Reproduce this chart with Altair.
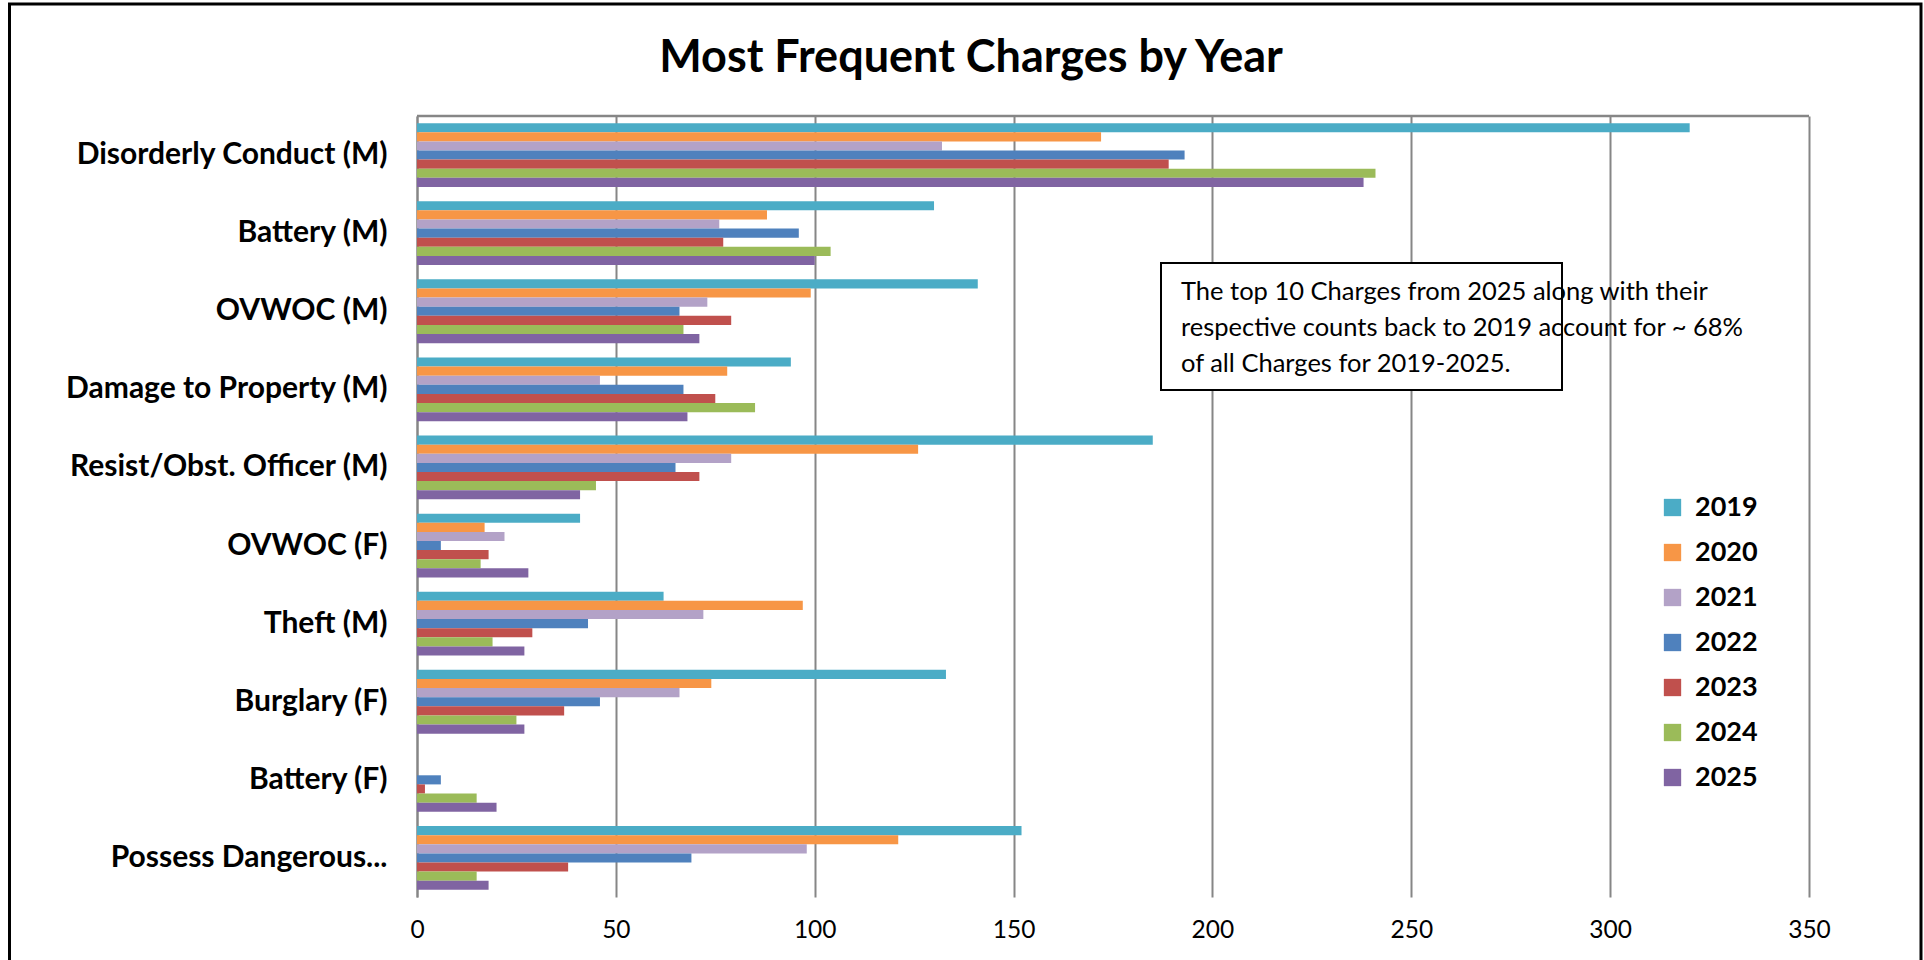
import altair as alt
import pandas as pd

# Charges, listed top to bottom as drawn
charges = [
    "Disorderly Conduct (M)",
    "Battery (M)",
    "OVWOC (M)",
    "Damage to Property (M)",
    "Resist/Obst. Officer (M)",
    "OVWOC (F)",
    "Theft (M)",
    "Burglary (F)",
    "Battery (F)",
    "Possess Dangerous...",
]
years = ["2019", "2020", "2021", "2022", "2023", "2024", "2025"]

# Counts per year, one value per charge (same order as `charges`)
counts_2019 = [320, 130, 141, 94, 185, 41, 62, 133, 0, 152]
counts_2020 = [172, 88, 99, 78, 126, 17, 97, 74, 0, 121]
counts_2021 = [132, 76, 73, 46, 79, 22, 72, 66, 0, 98]
counts_2022 = [193, 96, 66, 67, 65, 6, 43, 46, 6, 69]
counts_2023 = [189, 77, 79, 75, 71, 18, 29, 37, 2, 38]
counts_2024 = [241, 104, 67, 85, 45, 16, 19, 25, 15, 15]
counts_2025 = [238, 100, 71, 68, 41, 28, 27, 27, 20, 18]

year_colors = ["#4BACC6", "#F79646", "#B3A2C7", "#4F81BD", "#C0504D", "#9BBB59", "#8064A2"]

x_ticks = [0, 50, 100, 150, 200, 250, 300, 350]

title_text = "Most Frequent Charges by Year"
note_lines = [
    "The top 10 Charges from 2025 along with their",
    "respective counts back to 2019 account for ~ 68%",
    "of all Charges for 2019-2025.",
]

series = [counts_2019, counts_2020, counts_2021, counts_2022,
          counts_2023, counts_2024, counts_2025]
rows = []
for year, values in zip(years, series):
    for charge, v in zip(charges, values):
        rows.append({"Charge": charge, "Year": year, "Count": v})
df = pd.DataFrame(rows)

FONT = "Lato"
W, H = 1392, 781          # plot area
PAD_L, PAD_T = 417, 116   # plot origin on the page
GRID = "#868686"

one_row = pd.DataFrame({"k": [0]})

bars = alt.Chart(df).mark_bar().encode(
    y=alt.Y(
        "Charge:N",
        sort=charges,
        scale=alt.Scale(paddingInner=0.183, paddingOuter=0.0915),
        axis=alt.Axis(
            title=None, ticks=False, domain=True, domainColor=GRID,
            domainWidth=2, labelFont=FONT, labelFontSize=30,
            labelFontWeight="bold", labelColor="black", labelPadding=30,
            labelLimit=400,
        ),
    ),
    yOffset=alt.YOffset("Year:N", sort=years,
                        scale=alt.Scale(paddingInner=0, paddingOuter=0)),
    x=alt.X(
        "Count:Q",
        scale=alt.Scale(domain=[0, 350], nice=False),
        axis=alt.Axis(
            title=None, values=x_ticks, grid=True, gridColor=GRID,
            gridWidth=2, gridOpacity=1, ticks=False, domain=False,
            labelFont=FONT, labelFontSize=24.5, labelColor="black",
            labelPadding=21, labelFlush=False,
        ),
    ),
    color=alt.Color(
        "Year:N",
        scale=alt.Scale(domain=years, range=year_colors),
        legend=alt.Legend(
            title=None, orient="none", legendX=1242, legendY=378,
            symbolType="square", symbolSize=300, symbolStrokeWidth=0,
            symbolOpacity=1, labelFont=FONT, labelFontSize=27,
            labelFontWeight="bold", labelColor="black", labelOffset=9,
            rowPadding=17, padding=0,
        ),
    ),
)

# gray frame line across the top of the plot
top_line = alt.Chart(one_row).mark_rule(color=GRID, strokeWidth=2.5).encode(
    x=alt.value(0), x2=alt.value(W), y=alt.value(0)
)

# note box
note_box = alt.Chart(one_row).mark_rect(
    fill="white", stroke="black", strokeWidth=2
).encode(
    x=alt.value(744), x2=alt.value(1145), y=alt.value(147), y2=alt.value(274)
)

note_text = alt.Chart(one_row).mark_text(
    text="\n".join(note_lines), lineBreak="\n", lineHeight=36,
    align="left", baseline="alphabetic", font=FONT, fontSize=25.5,
    color="black",
).encode(x=alt.value(764), y=alt.value(184))

title = alt.Chart(one_row).mark_text(
    text=title_text, align="center", baseline="alphabetic", font=FONT,
    fontSize=45, fontWeight="bold", color="black",
).encode(x=alt.value(554), y=alt.value(-44))

# outer frame of the whole chart
frame = alt.Chart(one_row).mark_rect(
    fill=None, stroke="black", strokeWidth=3
).encode(
    x=alt.value(9.5 - PAD_L), x2=alt.value(1921 - PAD_L),
    y=alt.value(4 - PAD_T), y2=alt.value(1000 - PAD_T)
)

chart = alt.layer(bars, top_line, note_box, note_text, title, frame).properties(
    width=W, height=H,
    autosize=alt.AutoSizeParams(type="none"),
    padding={"left": PAD_L, "top": PAD_T, "right": 1924 - PAD_L - W,
             "bottom": 960 - PAD_T - H},
    background="white",
).configure_view(stroke=None)

chart.save("out.html", embed_options={"renderer": "svg", "actions": False})
